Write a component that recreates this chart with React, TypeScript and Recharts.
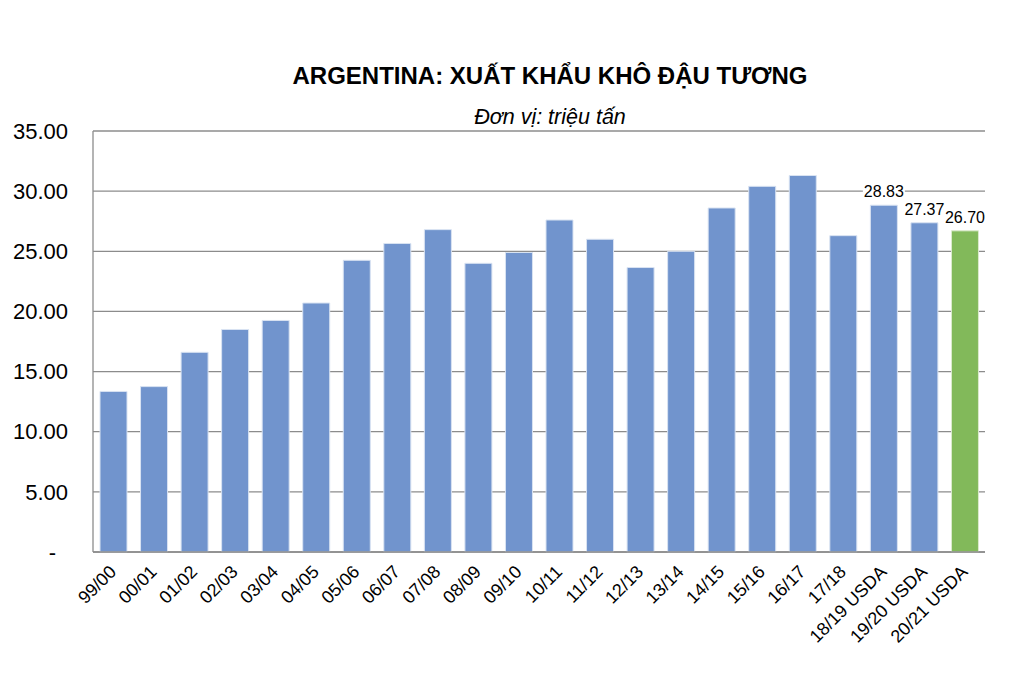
import React from "react";
import { BarChart, Bar, XAxis, YAxis, CartesianGrid, Cell, LabelList } from "recharts";

const categories = [
  "99/00", "00/01", "01/02", "02/03", "03/04", "04/05", "05/06", "06/07", "07/08", "08/09", "09/10",
  "10/11", "11/12", "12/13", "13/14", "14/15", "15/16", "16/17", "17/18", "18/19 USDA", "19/20 USDA", "20/21 USDA",
];
const exportsMt = [
  13.35, 13.75, 16.6, 18.5, 19.25, 20.7, 24.25, 25.65, 26.8, 24.0, 24.9,
  27.6, 26.0, 23.65, 25.0, 28.6, 30.4, 31.3, 26.3, 28.83, 27.37, 26.7,
];
const labeledCategories = ["18/19 USDA", "19/20 USDA", "20/21 USDA"];
const highlightCategories = ["20/21 USDA"];
const yTicks = [0, 5, 10, 15, 20, 25, 30, 35];

const title = "ARGENTINA: XUẤT KHẨU KHÔ ĐẬU TƯƠNG";
const subtitle = "Đơn vị: triệu tấn";

const data = categories.map((c, i) => ({ name: c, value: exportsMt[i] }));

const FONT = "'Liberation Sans', Arial, sans-serif";
const BLUE = "#7194CD";
const GREEN = "#82B95A";
const GRID = "#8c8c8c";

const YTick = (props: any) => {
  const { x, y, payload } = props;
  const v = payload.value as number;
  if (v === 0) {
    return (
      <text x={x - 12} y={y} dy="0.35em" textAnchor="end" fontSize={22} fontFamily={FONT} fill="#000">
        -
      </text>
    );
  }
  return (
    <text x={x} y={y} dy="0.35em" textAnchor="end" fontSize={22} fontFamily={FONT} fill="#000">
      {v.toFixed(2)}
    </text>
  );
};

const XTick = (props: any) => {
  const { x, payload } = props;
  return (
    <text
      transform={`translate(${x + 4}, 573) rotate(-45)`}
      textAnchor="end"
      fontSize={18}
      fontFamily={FONT}
      fill="#000"
    >
      {payload.value}
    </text>
  );
};

const ValueLabel = (props: any) => {
  const { x, y, width, value, index } = props;
  if (!labeledCategories.includes(categories[index])) return null;
  const cx = x + width / 2;
  const txt = Number(value).toFixed(2);
  return (
    <g>
      <rect x={cx - 21} y={y - 23} width={42} height={18} fill="#fff" />
      <text x={cx} y={y - 8} textAnchor="middle" fontSize={16} fontFamily={FONT} fill="#000">
        {txt}
      </text>
    </g>
  );
};

export default function App() {
  return (
    <div style={{ position: "absolute", left: 0, top: 0, width: 1024, height: 683, background: "#fff" }}>
      <svg width={1024} height={683} style={{ position: "absolute", left: 0, top: 0 }}>
        <text x={550} y={84} textAnchor="middle" fontSize={24} fontWeight="bold" fontFamily={FONT} fill="#000">
          {title}
        </text>
        <text x={550} y={123.5} textAnchor="middle" fontSize={21.5} fontStyle="italic" fontFamily={FONT} fill="#000">
          {subtitle}
        </text>
      </svg>
      <div style={{ position: "absolute", left: 0, top: 0 }}>
        <BarChart
          width={1024}
          height={683}
          data={data}
          margin={{ top: 131, right: 39, bottom: 0, left: 0 }}
          barSize={27}
        >
          <CartesianGrid horizontal vertical={false} stroke={GRID} strokeWidth={1.3} />
          <XAxis
            dataKey="name"
            height={131}
            interval={0}
            tickLine={false}
            axisLine={{ stroke: GRID, strokeWidth: 1.3 }}
            tick={<XTick />}
          />
          <YAxis
            domain={[0, 35]}
            ticks={yTicks}
            width={93}
            tickLine={false}
            tickSize={0}
            tickMargin={25}
            axisLine={{ stroke: GRID, strokeWidth: 1.3 }}
            tick={<YTick />}
            interval={0}
          />
          <Bar dataKey="value" isAnimationActive={false} stroke="#d9e3f2" strokeWidth={1}>
            {data.map((d) => (
              <Cell
                key={d.name}
                fill={highlightCategories.includes(d.name) ? GREEN : BLUE}
                stroke={highlightCategories.includes(d.name) ? "#dbeacd" : "#d9e3f2"}
              />
            ))}
            <LabelList dataKey="value" content={<ValueLabel />} />
          </Bar>
        </BarChart>
      </div>
    </div>
  );
}
